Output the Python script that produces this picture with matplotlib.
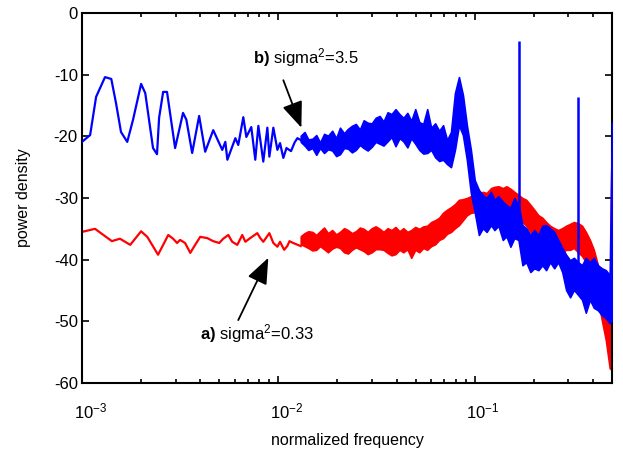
import matplotlib
matplotlib.use("Agg")
import matplotlib.pyplot as plt
import matplotlib.transforms as mtransforms

plt.rcParams['font.family'] = ['Liberation Sans', 'DejaVu Sans']
plt.rcParams['mathtext.fontset'] = 'custom'
plt.rcParams['mathtext.rm'] = 'Liberation Sans'
plt.rcParams['mathtext.bf'] = 'Liberation Sans:bold'
plt.rcParams['mathtext.it'] = 'Liberation Sans:italic'
plt.rcParams['axes.unicode_minus'] = False

blue_f = [1.00e-3, 1.10e-3, 1.18e-3, 1.31e-3, 1.41e-3, 1.49e-3, 1.58e-3, 1.70e-3,
          1.82e-3, 2.00e-3, 2.10e-3, 2.30e-3, 2.41e-3, 2.47e-3, 2.59e-3, 2.71e-3,
          2.98e-3, 3.27e-3, 3.40e-3, 3.64e-3, 3.95e-3, 4.24e-3, 4.66e-3, 5.18e-3,
          5.37e-3, 5.50e-3, 6.04e-3, 6.25e-3, 6.63e-3, 6.87e-3, 7.28e-3, 7.63e-3,
          7.91e-3, 8.38e-3, 8.79e-3, 9.00e-3, 9.43e-3, 9.89e-3, 1.02e-2, 1.06e-2,
          1.10e-2, 1.16e-2, 1.21e-2, 1.25e-2, 1.30e-2]
blue_db = [-20.9, -19.8, -13.6, -10.4, -10.7, -14.6, -19.3, -20.9, -17.3, -11.5,
           -13.0, -21.9, -22.9, -17.0, -12.8, -12.8, -21.9, -16.2, -17.3, -22.7,
           -16.7, -22.5, -19.0, -22.2, -20.9, -23.8, -20.3, -21.4, -16.9, -20.1,
           -18.5, -23.8, -18.3, -24.1, -18.6, -23.3, -18.6, -22.2, -21.1, -23.5,
           -21.9, -22.4, -21.0, -20.3, -20.6]

red_f = [1.00e-3, 1.165e-3, 1.42e-3, 1.56e-3, 1.76e-3, 2.00e-3, 2.15e-3, 2.44e-3,
         2.75e-3, 2.91e-3, 3.05e-3, 3.16e-3, 3.35e-3, 3.56e-3, 3.77e-3, 4.00e-3,
         4.34e-3, 4.66e-3, 5.00e-3, 5.24e-3, 5.56e-3, 5.82e-3, 6.18e-3, 6.55e-3,
         6.79e-3, 7.19e-3, 7.81e-3, 8.09e-3, 8.38e-3, 9.00e-3, 9.43e-3, 9.89e-3,
         1.02e-2, 1.07e-2, 1.11e-2, 1.14e-2, 1.19e-2, 1.30e-2]
red_db = [-35.5, -35.0, -37.0, -36.6, -37.6, -35.4, -36.3, -39.2, -36.0, -36.6,
          -37.3, -36.8, -37.3, -38.9, -37.6, -36.3, -36.5, -37.0, -37.3, -36.6,
          -36.0, -37.1, -37.6, -36.0, -37.1, -36.5, -35.7, -36.5, -37.1, -35.7,
          -37.3, -37.9, -37.1, -38.4, -37.8, -37.0, -37.3, -37.8]

# dense part: upper / lower edge of the noisy band
band_f = [0.013, 0.0136, 0.0142, 0.0149, 0.0156, 0.0163, 0.0171, 0.0179, 0.0188, 0.0197,
          0.0206, 0.0216, 0.0226, 0.0237, 0.0248, 0.026, 0.0272, 0.0285, 0.0299, 0.0313,
          0.0328, 0.0343, 0.036, 0.0377, 0.0395, 0.0414, 0.0433, 0.0454, 0.0475, 0.0498,
          0.0522, 0.0547, 0.0573, 0.06, 0.0629, 0.0659, 0.069, 0.0723, 0.0757, 0.0793,
          0.0831, 0.0871, 0.0912, 0.0956, 0.1, 0.105, 0.11, 0.115, 0.121, 0.126,
          0.132, 0.139, 0.145, 0.152, 0.159, 0.167, 0.175, 0.183, 0.192, 0.201,
          0.211, 0.221, 0.231, 0.242, 0.254, 0.266, 0.279, 0.292, 0.306, 0.32,
          0.336, 0.352, 0.368, 0.386, 0.404, 0.424, 0.444, 0.465, 0.487, 0.5]
blue_top = [-19.9, -19.3, -20.5, -20.4, -19.8, -21.0, -19.6, -19.9, -19.1, -20.3,
            -18.6, -19.5, -18.8, -18.3, -18.0, -18.9, -17.4, -17.8, -17.9, -17.0,
            -16.7, -17.6, -16.1, -16.4, -15.6, -16.4, -17.0, -16.2, -17.5, -15.6,
            -17.7, -18.0, -15.6, -18.6, -17.9, -19.1, -18.2, -20.6, -19.3, -13.0,
            -10.4, -13.3, -18.2, -22.2, -27.1, -28.7, -29.5, -30.0, -29.0, -30.3,
            -29.7, -30.6, -31.1, -31.6, -30.0, -31.1, -34.4, -34.9, -36.0, -35.2,
            -36.0, -34.5, -34.4, -34.9, -35.5, -36.8, -38.1, -39.2, -40.1, -39.7,
            -40.4, -40.9, -39.7, -40.4, -39.7, -40.9, -41.4, -41.7, -42.5, -17.8]
blue_bot = [-20.9, -21.5, -22.2, -21.9, -23.0, -21.9, -22.7, -22.1, -22.3, -23.2,
            -22.9, -21.9, -22.0, -22.6, -22.2, -21.4, -21.9, -22.3, -21.7, -20.9,
            -21.2, -21.5, -20.8, -20.1, -21.6, -20.3, -20.8, -21.8, -20.3, -21.2,
            -22.2, -22.8, -22.7, -22.2, -23.4, -24.0, -23.8, -24.5, -25.0, -22.2,
            -18.2, -19.8, -23.8, -29.2, -32.3, -36.0, -34.9, -35.5, -34.4, -35.2,
            -34.5, -36.8, -36.2, -37.9, -36.5, -36.8, -40.9, -40.4, -42.0, -41.4,
            -41.7, -40.9, -41.7, -40.4, -41.4, -40.4, -42.0, -44.9, -46.1, -44.9,
            -45.7, -46.5, -48.6, -46.5, -47.8, -48.2, -49.0, -49.5, -50.3, -49.8]
red_top = [-36.2, -35.7, -35.4, -35.5, -36.0, -35.4, -34.8, -35.7, -35.2, -35.9,
           -35.5, -34.9, -35.2, -35.7, -35.4, -34.8, -35.0, -35.5, -34.9, -34.6,
           -35.0, -35.5, -34.9, -35.2, -34.7, -35.4, -34.9, -35.5, -35.2, -34.7,
           -35.0, -34.6, -34.5, -33.9, -33.6, -33.2, -32.4, -31.9, -31.5, -31.0,
           -30.3, -30.2, -30.0, -29.7, -29.8, -29.4, -29.0, -29.2, -28.4, -28.2,
           -28.1, -28.4, -28.1, -28.5, -29.0, -29.5, -30.0, -30.3, -31.1, -31.9,
           -32.8, -33.2, -33.9, -34.5, -34.9, -35.2, -34.9, -34.5, -34.2, -33.9,
           -34.1, -34.5, -35.5, -36.8, -38.4, -40.9, -44.9, -47.4, -49.8, -14.9]
red_bot = [-37.5, -37.8, -38.1, -38.5, -38.4, -37.8, -38.3, -38.8, -38.2, -37.9,
           -38.1, -38.8, -39.0, -38.4, -38.0, -38.3, -38.6, -39.1, -38.8, -38.3,
           -38.3, -38.4, -38.9, -39.3, -39.1, -38.4, -38.8, -38.3, -39.7, -38.4,
           -38.8, -38.1, -38.4, -37.8, -37.5, -36.8, -36.5, -35.8, -35.5, -34.9,
           -34.4, -33.6, -32.8, -32.4, -32.3, -31.9, -31.6, -31.9, -31.1, -31.3,
           -31.0, -31.3, -31.1, -31.6, -32.8, -33.1, -33.9, -34.5, -35.5, -36.2,
           -36.8, -37.3, -37.8, -38.1, -38.4, -39.2, -38.8, -38.4, -38.4, -38.1,
           -38.8, -39.4, -40.4, -41.7, -44.1, -46.5, -49.8, -53.0, -57.6, -57.9]

# narrow lines in the blue spectrum
spike_f = [0.1675, 0.336]
spike_top = [-4.5, -13.6]
spike_base = [-35.0, -42.0]

fig = plt.figure(figsize=(6.23, 4.54), dpi=100)
ax = fig.add_axes([0.1316, 0.1564, 0.8507, 0.815])

ax.plot(red_f, red_db, color='#ff0000', lw=1.6, zorder=2)
ax.fill_between(band_f, red_bot, red_top, color='#ff0000', lw=1.2, zorder=2)
ax.plot(blue_f, blue_db, color='#0000ff', lw=1.6, zorder=3)
ax.fill_between(band_f, blue_bot, blue_top, color='#0000ff', lw=1.2, zorder=3)
ax.vlines(spike_f, spike_base, spike_top, color='#0000ff', lw=1.8, zorder=3)

ax.set_xscale('log')
ax.set_xlim(1e-3, 0.5)
ax.set_ylim(-60, 0)
ax.set_yticks([-60, -50, -40, -30, -20, -10, 0])
ax.set_xlabel('normalized frequency', fontsize=11.5, labelpad=9)
ax.set_ylabel('power density', fontsize=11.5, labelpad=16)

ax.tick_params(which='both', direction='in', top=True, right=True, width=1.2)
ax.tick_params(which='major', length=5, labelsize=12)
ax.tick_params(axis='x', which='major', pad=13)
ax.tick_params(axis='y', which='major', pad=3)
ax.tick_params(which='minor', length=3)
for sp in ax.spines.values():
    sp.set_linewidth(1.5)

# MATLAB puts the 10^n labels a bit to the right
shift = mtransforms.ScaledTranslation(6 / 72, 0, fig.dpi_scale_trans)
for lab in ax.get_xticklabels():
    lab.set_transform(lab.get_transform() + shift)

arrow = dict(arrowstyle='-|>,head_length=0.8,head_width=0.32', mutation_scale=20,
             color='k', lw=1.3, shrinkA=0, shrinkB=0)
ax.annotate('', xy=(1.31e-2, -18.6), xytext=(1.06e-2, -10.9), arrowprops=arrow)
ax.text(7.4e-3, -7.2, r'$\mathbf{b)}$ sigma$^2$=3.5', fontsize=12, va='center', ha='left')
ax.annotate('', xy=(8.89e-3, -39.7), xytext=(6.25e-3, -49.8), arrowprops=arrow)
ax.text(4.0e-3, -52.0, r'$\mathbf{a)}$ sigma$^2$=0.33', fontsize=12, va='center', ha='left')

fig.savefig('out.png', dpi=100)
